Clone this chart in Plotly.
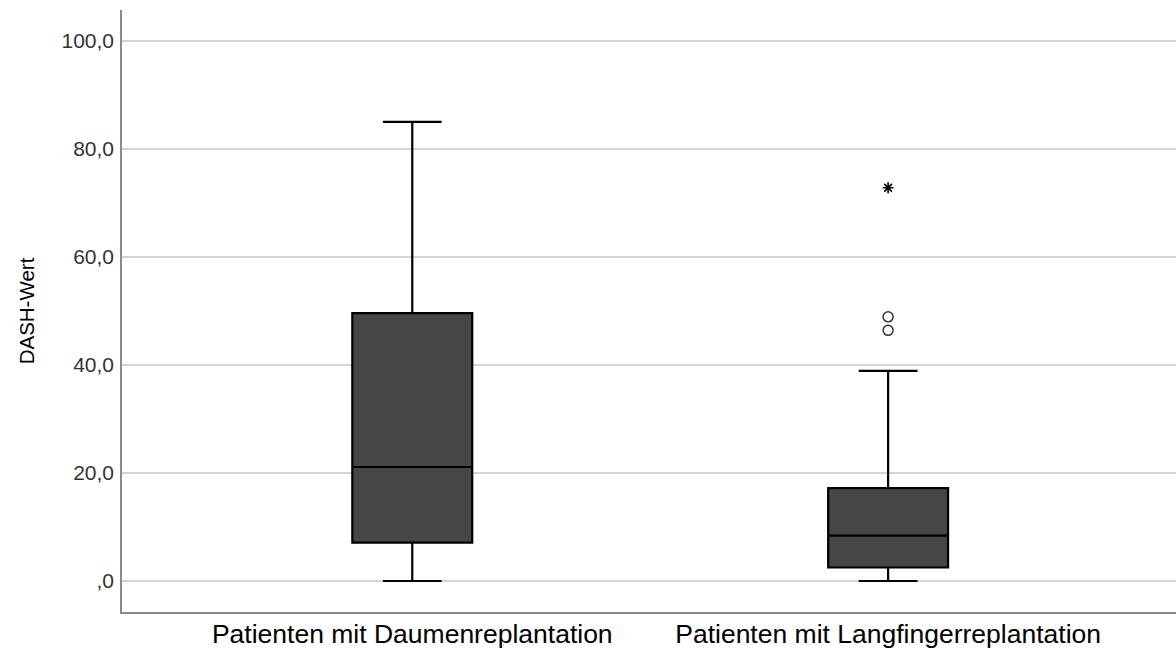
import plotly.graph_objects as go

categories = ["Patienten mit Daumenreplantation", "Patienten mit Langfingerreplantation"]
lower = [0.0, 0.0]
q1 = [7.1, 2.5]
median = [21.1, 8.4]
q3 = [49.6, 17.2]
upper = [85.0, 38.9]

outlier_cat = ["Patienten mit Langfingerreplantation", "Patienten mit Langfingerreplantation"]
outlier_vals = [48.9, 46.4]
extreme_cat = ["Patienten mit Langfingerreplantation"]
extreme_vals = [72.8]

tick_vals = [0, 20, 40, 60, 80, 100]
tick_text = [",0", "20,0", "40,0", "60,0", "80,0", "100,0"]

fig = go.Figure()
fig.add_trace(go.Box(
    x=categories, q1=q1, median=median, q3=q3,
    lowerfence=lower, upperfence=upper,
    boxpoints=False, width=0.252, whiskerwidth=0.49,
    fillcolor="#464646", line=dict(color="#000000", width=2.2),
    showlegend=False, hoverinfo="skip"))
fig.add_trace(go.Scatter(
    x=outlier_cat, y=outlier_vals, mode="markers",
    marker=dict(symbol="circle-open", size=10, color="#333333", line=dict(width=1.5)),
    showlegend=False))
fig.add_trace(go.Scatter(
    x=extreme_cat, y=extreme_vals, mode="markers",
    marker=dict(symbol="asterisk-open", size=9, color="#000000", line=dict(width=1.6, color="#000000")),
    showlegend=False))

fig.update_layout(
    width=1176, height=648,
    margin=dict(l=122, r=0, t=10, b=36),
    plot_bgcolor="white", paper_bgcolor="white",
    font=dict(family="Liberation Sans, Arial, sans-serif", color="#000000"),
    xaxis=dict(
        type="category", range=[-0.61, 1.605], automargin=False,
        showgrid=False, showline=True, linecolor="#8a8a8a", linewidth=1.5,
        ticks="", tickfont=dict(size=26.5, color="#000000"), ticklabelstandoff=-3,
        zeroline=False),
    yaxis=dict(
        range=[-5.74, 105.7], tickvals=tick_vals, ticktext=tick_text, automargin=False,
        showgrid=True, gridcolor="#d4d4d4", gridwidth=1.5,
        showline=True, linecolor="#8a8a8a", linewidth=1.5,
        ticks="", tickfont=dict(size=21, color="#333333"), ticklabelstandoff=2,
        zeroline=False,
        title=dict(text="DASH-Wert", font=dict(size=20.5, color="#000000"), standoff=21)),
)

fig.write_html("out.html")
